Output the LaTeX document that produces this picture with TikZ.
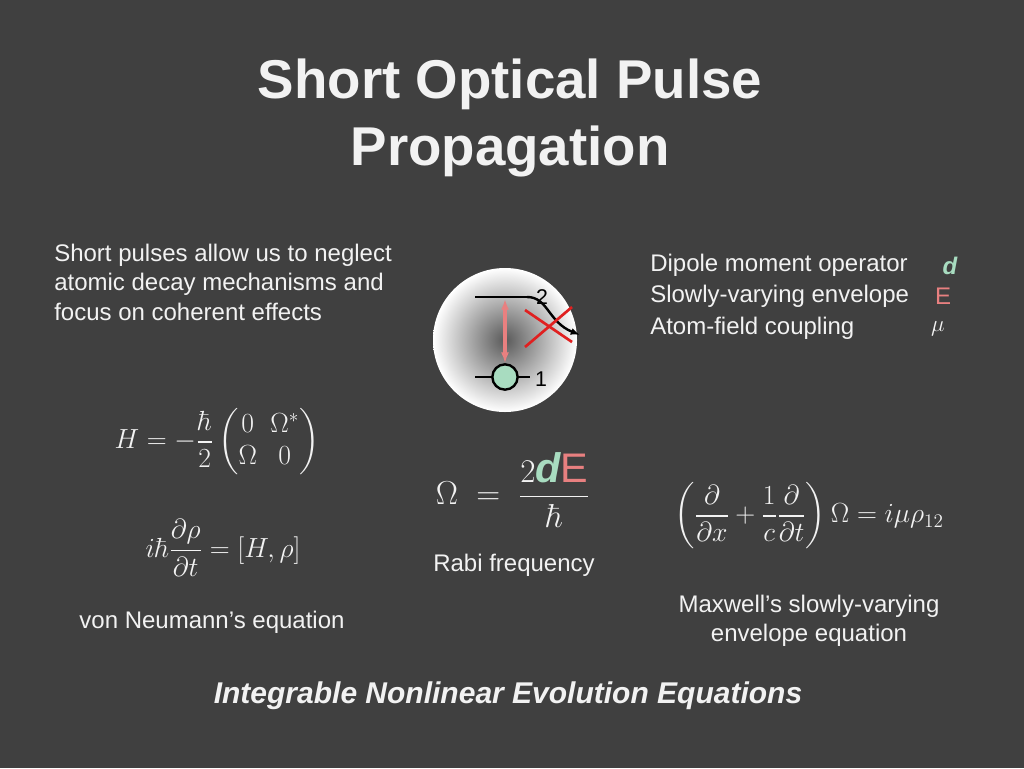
\documentclass[tikz,border=0pt]{standalone}
\usepackage{amsmath}
\usepackage[no-math]{fontspec}
\setmainfont{Liberation Sans}
\usetikzlibrary{arrows.meta}
\definecolor{bg}{HTML}{404040}
\definecolor{txt}{HTML}{F2F2F2}
\definecolor{dgreen}{HTML}{A8DCC0}
\definecolor{epink}{HTML}{E88080}
\definecolor{xred}{HTML}{E02020}
\begin{document}
\begin{tikzpicture}[x=0.75pt,y=-0.75pt,
  every node/.style={text=txt,inner sep=0pt},
  body/.style={font=\fontsize{18}{22}\selectfont,align=left},
  eq/.style={font=\fontsize{20}{24}\selectfont}]
\fill[bg] (0,0) rectangle (1024,768);
\useasboundingbox (0,0) rectangle (1024,768);
\node[font=\fontsize{41}{50}\selectfont\bfseries,align=center] (title) at (510,118) {Short Optical Pulse\\Propagation};
\node[body,anchor=north west] (intro) at (54,244) {Short pulses allow us to neglect\\atomic decay mechanisms and\\focus on coherent effects};
% atom
\shade[inner color=gray!70!black,outer color=white] (505,340) circle (72);
\coordinate (l2a) at (475,297); \coordinate (l2b) at (527,297);
\coordinate (dec) at (580,335);
\draw[line width=2.2pt] (l2a) -- (l2b);
\draw[line width=1.8pt,-{Latex[length=7pt]}] (l2b) .. controls (548,297) and (548,322) .. (dec);
\draw[xred,line width=2pt] (525,347) -- (572,307) (525,310) -- (572,342);
\coordinate (l1a) at (475,377); \coordinate (l1b) at (530,377);
\draw[line width=1.8pt] (l1a) -- (l1b);
\node[circle,draw=black,line width=1.8pt,fill=dgreen,minimum size=19pt] (g) at (505,377) {};
\coordinate (top) at (505,299);
\draw[epink,line width=2.5pt,{Latex[length=8pt]}-{Latex[length=8pt]}] (top) -- (g);
\node[text=black,font=\fontsize{16}{16}\selectfont] (n2) at (542,297) {2};
\node[text=black,font=\fontsize{16}{16}\selectfont] (n1) at (541,379) {1};
% legend
\node[body,anchor=north west,font=\fontsize{18}{23.5}\selectfont] (leg) at (650,254) {Dipole moment operator\\Slowly-varying envelope\\Atom-field coupling};
\node[text=dgreen,font=\fontsize{18}{18}\selectfont\bfseries\itshape] (ld) at (950,266) {d};
\node[text=epink,font=\fontsize{18}{18}\selectfont] (lE) at (943,296) {E};
\node[font=\fontsize{17}{17}\selectfont] (lmu) at (938,329) {$\mu$};
% equations
\node[eq] (H) at (217,442) {$H=-\dfrac{\hbar}{2}\begin{pmatrix}0 & \Omega^*\\ \Omega & 0\end{pmatrix}$};
\node[eq,font=\fontsize{21}{25}\selectfont] (vn) at (223,548) {$i\hbar\dfrac{\partial\rho}{\partial t}=[H,\rho]$};
\node[font=\fontsize{31}{36}\selectfont] (om) at (513,490) {$\Omega\;=\;\dfrac{2\text{\textcolor{dgreen}{\bfseries\itshape d}\textcolor{epink}{E}}}{\hbar}$};
\node[font=\fontsize{21.5}{25}\selectfont] (mx) at (809,516) {$\left(\dfrac{\partial}{\partial x}+\dfrac{1}{c}\dfrac{\partial}{\partial t}\right)\Omega=i\mu\rho_{12}$};
\node[body] (rabi) at (514,565) {Rabi frequency};
\node[body] (vnl) at (212,622) {von Neumann’s equation};
\node[body,align=center] (mxl) at (809,621) {Maxwell’s slowly-varying\\envelope equation};
\node[font=\fontsize{22.5}{26}\selectfont\bfseries\itshape] (bot) at (508,696) {Integrable Nonlinear Evolution Equations};
\end{tikzpicture}
\end{document}
